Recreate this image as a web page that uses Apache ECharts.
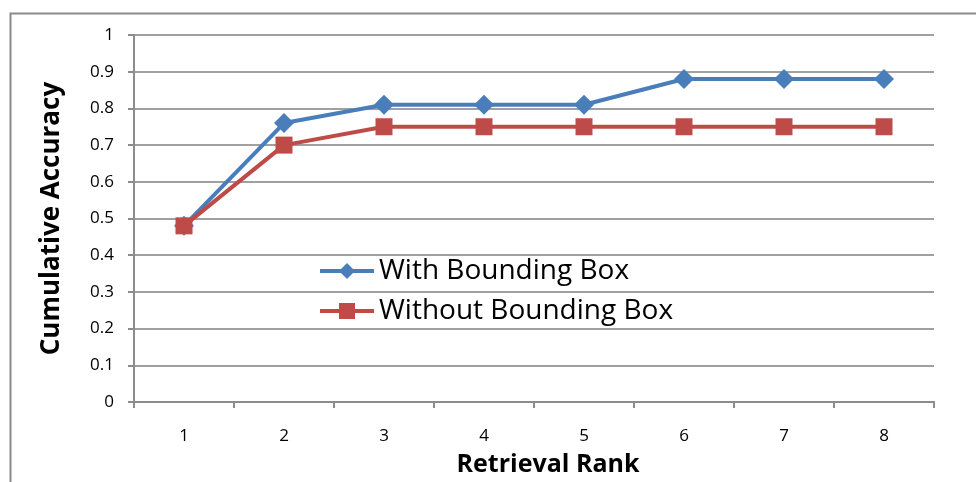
<!DOCTYPE html>
<html>
<head>
<meta charset="utf-8">
<title>Cumulative Accuracy by Retrieval Rank</title>
<script src="https://cdn.jsdelivr.net/npm/echarts@6/dist/echarts.min.js"></script>
<style>
  html, body { margin: 0; padding: 0; background: #fff; }
  #chart { width: 976px; height: 482px; }
</style>
</head>
<body>
<div id="chart"></div>
<script>
// Retrieval ranks on the x axis
const ranks = ['1', '2', '3', '4', '5', '6', '7', '8'];
// Cumulative accuracy for each rank
const withBox = [0.48, 0.76, 0.81, 0.81, 0.81, 0.88, 0.88, 0.88];
const withoutBox = [0.48, 0.70, 0.75, 0.75, 0.75, 0.75, 0.75, 0.75];
const seriesNames = ['With Bounding Box', 'Without Bounding Box'];

const FONT = '"Open Sans", "Liberation Sans", sans-serif';
const BLUE = '#4a7ebb';
const RED = '#be4b48';
const GRAY = '#8c8c8c';

const chart = echarts.init(document.getElementById('chart'), null, { renderer: 'canvas' });

chart.setOption({
  animation: false,
  backgroundColor: '#ffffff',
  graphic: [{
    type: 'rect',
    left: 8,
    top: 11,
    shape: { width: 1100, height: 600 },
    style: { fill: 'none', stroke: '#8a8a8a', lineWidth: 2 },
    silent: true
  }],
  grid: { left: 134, right: 42, top: 35, bottom: 79 },
  legend: {
    orient: 'vertical',
    left: 313,
    top: 252,
    itemGap: 12,
    itemWidth: 54,
    itemHeight: 20,
    data: seriesNames,
    lineStyle: { width: 4 },
    textStyle: { fontFamily: FONT, fontSize: 28, color: '#000' }
  },
  xAxis: {
    type: 'category',
    data: ranks,
    boundaryGap: true,
    name: 'Retrieval Rank',
    nameLocation: 'middle',
    nameGap: 50,
    nameTextStyle: { fontFamily: FONT, fontSize: 25, fontWeight: 'bold', color: '#000', padding: [0, 0, 0, 28] },
    axisLine: { lineStyle: { color: GRAY, width: 2 } },
    axisTick: { show: true, length: 6, lineStyle: { color: GRAY, width: 2 }, interval: 0 },
    axisLabel: { fontFamily: FONT, fontSize: 17, color: '#000', margin: 26 },
    splitLine: { show: false }
  },
  yAxis: {
    type: 'value',
    min: 0,
    max: 1,
    interval: 0.1,
    name: 'Cumulative Accuracy',
    nameLocation: 'middle',
    nameGap: 69,
    nameTextStyle: { fontFamily: FONT, fontSize: 26, fontWeight: 'bold', color: '#000' },
    axisLine: { show: true, lineStyle: { color: GRAY, width: 2 } },
    axisTick: { show: true, length: 6, lineStyle: { color: GRAY, width: 2 } },
    axisLabel: {
      fontFamily: FONT, fontSize: 17, color: '#000', margin: 20,
      formatter: v => String(Math.round(v * 10) / 10)
    },
    splitLine: { show: true, lineStyle: { color: '#a0a0a0', width: 2 } }
  },
  series: [
    {
      name: seriesNames[0],
      type: 'line',
      data: withBox,
      symbol: 'diamond',
      symbolSize: 20,
      lineStyle: { color: BLUE, width: 4 },
      itemStyle: { color: BLUE },
      z: 2
    },
    {
      name: seriesNames[1],
      type: 'line',
      data: withoutBox,
      symbol: 'rect',
      symbolSize: 17,
      lineStyle: { color: RED, width: 4 },
      itemStyle: { color: RED },
      z: 3
    }
  ]
});
</script>
</body>
</html>
